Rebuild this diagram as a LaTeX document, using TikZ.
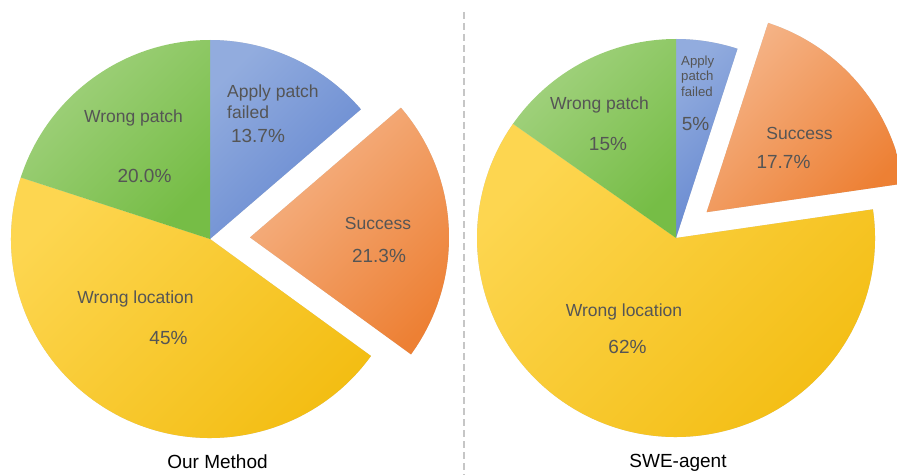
\documentclass[tikz,border=0pt]{standalone}
\usepackage{fontspec}
\setmainfont{Liberation Sans}
\usepackage{tikz}
\definecolor{blueA}{RGB}{146,172,222}
\definecolor{blueB}{RGB}{100,135,208}
\definecolor{orangeA}{RGB}{245,180,136}
\definecolor{orangeB}{RGB}{237,128,52}
\definecolor{yellowA}{RGB}{253,214,80}
\definecolor{yellowB}{RGB}{243,189,18}
\definecolor{greenA}{RGB}{163,210,128}
\definecolor{greenB}{RGB}{118,189,70}
\definecolor{txtgray}{RGB}{85,85,85}
\tikzset{
  blueslice/.style={top color=blueA, bottom color=blueB, shading angle=45},
  orangeslice/.style={top color=orangeA, bottom color=orangeB, shading angle=45},
  yellowslice/.style={top color=yellowA, bottom color=yellowB, shading angle=45},
  greenslice/.style={top color=greenA, bottom color=greenB, shading angle=45},
  shadow/.style={fill=black, opacity=0.2},
  lbl/.style={inner sep=0pt, text=txtgray, font=\fontsize{17.5}{21}\selectfont},
  num/.style={inner sep=0pt, text=txtgray, font=\fontsize{19}{22}\selectfont},
  tiny/.style={inner sep=0pt, text=txtgray, align=left, font=\fontsize{13.2}{15.5}\selectfont},
  caption/.style={inner sep=0pt, font=\fontsize{19}{22}\selectfont}
}

\begin{document}
\begin{tikzpicture}[x=1pt,y=1pt]
\useasboundingbox (0,0) rectangle (897,475);
\clip (0,0) rectangle (897,475);

% Our Method
\coordinate (c1) at (210,236);
\coordinate (s1) at (250,237.6);
\begin{scope}[shift={(1.5,-1.5)}]
\fill [shadow] (c1) -- ++(90:199) arc [start angle=90, end angle=40.68, radius=199] -- cycle;
\fill [shadow] (s1) -- ++(40.68:199) arc [start angle=40.68, end angle=-36, radius=199] -- cycle;
\fill [shadow] (c1) -- ++(-36:199) arc [start angle=-36, end angle=-198, radius=199] -- cycle;
\end{scope}
\shade [blueslice] (c1) -- ++(90:199) arc [start angle=90, end angle=40.68, radius=199] -- cycle;
\shade [orangeslice] (s1) -- ++(40.68:199) arc [start angle=40.68, end angle=-36, radius=199] -- cycle;
\shade [yellowslice] (c1) -- ++(-36:199) arc [start angle=-36, end angle=-198, radius=199] -- cycle;
\shade [greenslice] (c1) -- ++(162:199) arc [start angle=162, end angle=90, radius=199] -- cycle;

\node [lbl] (wp1) at (133.5,357) {Wrong patch};
\node [num] (wpn1) at (144.5,299) {20.0\%};
\node [lbl, align=left, anchor=west] (apf1) at (227,373.5) {Apply patch\\failed};
\node [num] (apfn1) at (258,339) {13.7\%};
\node [lbl] (su1) at (378,252) {Success};
\node [num] (sun1) at (379,219) {21.3\%};
\node [lbl] (wl1) at (135.5,176) {Wrong location};
\node [num] (wln1) at (168.5,137) {45\%};
\node [caption] (cap1) at (217.5,13) {Our Method};

% separator
\draw [gray!45, line width=1.6pt, dash pattern=on 7pt off 4pt] (464,463) -- (464,0);

% SWE-agent
\coordinate (c2) at (676,237);
\coordinate (s2) at (706.6,262.8);
\begin{scope}[shift={(1.5,-1.5)}]
\fill [shadow] (c2) -- ++(90:199) arc [start angle=90, end angle=72, radius=199] -- cycle;
\fill [shadow] (s2) -- ++(72:199) arc [start angle=72, end angle=8.28, radius=199] -- cycle;
\fill [shadow] (c2) -- ++(8.28:199) arc [start angle=8.28, end angle=-215, radius=199] -- cycle;
\end{scope}
\shade [blueslice] (c2) -- ++(90:199) arc [start angle=90, end angle=72, radius=199] -- cycle;
\shade [orangeslice] (s2) -- ++(72:199) arc [start angle=72, end angle=8.28, radius=199] -- cycle;
\shade [yellowslice] (c2) -- ++(8.28:199) arc [start angle=8.28, end angle=-215, radius=199] -- cycle;
\shade [greenslice] (c2) -- ++(145:199) arc [start angle=145, end angle=90, radius=199] -- cycle;

\node [lbl] (wp2) at (599.5,370) {Wrong patch};
\node [num] (wpn2) at (608,331) {15\%};
\node [tiny, anchor=west] (apf2) at (681,399) {Apply\\patch\\failed};
\node [num] (apfn2) at (695.5,351) {5\%};
\node [lbl] (su2) at (799.5,342) {Success};
\node [num] (sun2) at (783.5,313) {17.7\%};
\node [lbl] (wl2) at (624,163) {Wrong location};
\node [num] (wln2) at (627.5,128) {62\%};
\node [caption] (cap2) at (678,12) {SWE-agent};
\end{tikzpicture}
\end{document}
